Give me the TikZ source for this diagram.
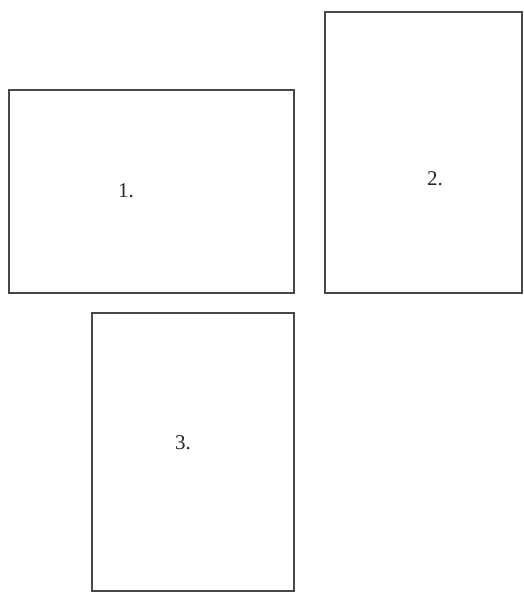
\documentclass[tikz,border=0pt]{standalone}
\usepackage{fontspec}
\setmainfont{Liberation Serif}
\begin{document}
\begin{tikzpicture}[x=1pt,y=-1pt,
  panel/.style={draw=black!72,line width=1.4pt},
  lbl/.style={font=\fontsize{21}{24}\selectfont,text=black!85,inner sep=0pt}]
\useasboundingbox[fill=white] (0,0) rectangle (524,592);
\draw[panel] (9,90) rectangle (294,293);
\draw[panel] (325,12) rectangle (522,293);
\draw[panel] (92,313) rectangle (294,591);
\node[lbl] (l1) at (126,191) {1.};
\node[lbl] (l2) at (435,179) {2.};
\node[lbl] (l3) at (183,443) {3.};
\end{tikzpicture}
\end{document}
